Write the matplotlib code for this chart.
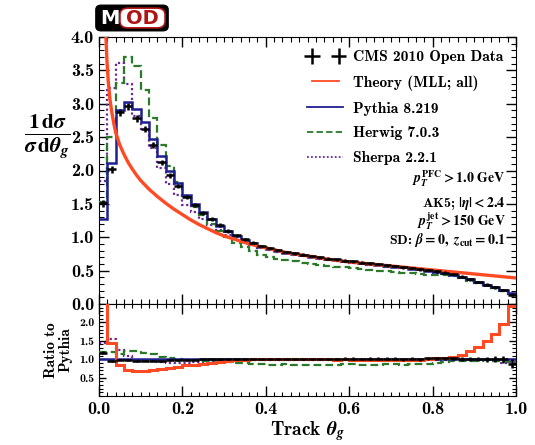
import matplotlib
matplotlib.use("Agg")
import numpy as np
import matplotlib.pyplot as plt
from matplotlib.patches import FancyBboxPatch
from matplotlib.ticker import MultipleLocator, FixedLocator, FormatStrFormatter

# 50 bins of width 0.02 in track theta_g
bin_edges = np.linspace(0.0, 1.0, 51)
bin_centers = 0.5 * (bin_edges[:-1] + bin_edges[1:])

cms_data = [1.51, 2.02, 2.87, 2.96, 2.78, 2.62, 2.38, 2.12, 1.93, 1.77,
            1.61, 1.48, 1.37, 1.27, 1.18, 1.10, 1.03, 0.97, 0.92, 0.87,
            0.84, 0.81, 0.78, 0.76, 0.74, 0.72, 0.70, 0.68, 0.67, 0.65,
            0.64, 0.62, 0.61, 0.60, 0.58, 0.57, 0.55, 0.54, 0.52, 0.51,
            0.49, 0.47, 0.45, 0.41, 0.37, 0.33, 0.29, 0.25, 0.21, 0.14]
cms_err = [0.05, 0.05, 0.05, 0.05, 0.05, 0.04, 0.04, 0.04, 0.04, 0.03,
           0.03, 0.03, 0.03, 0.03, 0.03, 0.03, 0.02, 0.02, 0.02, 0.02,
           0.02, 0.02, 0.02, 0.02, 0.02, 0.02, 0.02, 0.02, 0.02, 0.02,
           0.02, 0.02, 0.02, 0.02, 0.02, 0.02, 0.02, 0.02, 0.02, 0.02,
           0.02, 0.02, 0.02, 0.02, 0.02, 0.02, 0.02, 0.02, 0.02, 0.02]

pythia = [1.28, 2.11, 2.90, 3.02, 2.92, 2.72, 2.47, 2.22, 2.00, 1.82,
          1.64, 1.50, 1.38, 1.27, 1.17, 1.09, 1.02, 0.96, 0.91, 0.86,
          0.83, 0.80, 0.77, 0.75, 0.73, 0.71, 0.69, 0.67, 0.66, 0.64,
          0.63, 0.62, 0.60, 0.59, 0.57, 0.56, 0.55, 0.53, 0.52, 0.50,
          0.48, 0.46, 0.44, 0.41, 0.37, 0.33, 0.29, 0.25, 0.21, 0.16]

herwig = [1.53, 2.50, 3.31, 3.70, 3.57, 3.21, 2.79, 2.38, 2.06, 1.83,
          1.62, 1.46, 1.33, 1.20, 1.10, 1.00, 0.92, 0.85, 0.79, 0.74,
          0.71, 0.68, 0.66, 0.64, 0.62, 0.60, 0.59, 0.57, 0.56, 0.55,
          0.54, 0.53, 0.51, 0.50, 0.49, 0.48, 0.47, 0.46, 0.45, 0.44,
          0.43, 0.43, 0.42, 0.39, 0.35, 0.31, 0.28, 0.24, 0.20, 0.15]

sherpa = [1.85, 3.24, 3.61, 3.30, 2.82, 2.62, 2.33, 2.04, 1.80, 1.63,
          1.49, 1.38, 1.28, 1.19, 1.11, 1.04, 0.98, 0.93, 0.88, 0.84,
          0.81, 0.78, 0.76, 0.74, 0.72, 0.70, 0.68, 0.66, 0.65, 0.63,
          0.62, 0.61, 0.59, 0.58, 0.56, 0.55, 0.54, 0.52, 0.51, 0.49,
          0.47, 0.45, 0.43, 0.40, 0.36, 0.32, 0.28, 0.24, 0.19, 0.15]

# theory curve (MLL) as drawn in the top panel
theory_x = [0.0155, 0.017, 0.019, 0.022, 0.026, 0.03, 0.035, 0.04, 0.05, 0.06,
            0.07, 0.08, 0.09, 0.10, 0.12, 0.14, 0.16, 0.18, 0.20, 0.22,
            0.24, 0.26, 0.28, 0.30, 0.33, 0.36, 0.40, 0.45, 0.50, 0.55,
            0.60, 0.65, 0.70, 0.75, 0.80, 0.85, 0.90, 0.95, 1.00]
theory_y = [4.30, 3.95, 3.65, 3.35, 3.08, 2.90, 2.72, 2.57, 2.38, 2.24,
            2.12, 2.02, 1.93, 1.85, 1.72, 1.61, 1.51, 1.42, 1.34, 1.26,
            1.19, 1.13, 1.07, 1.02, 0.96, 0.90, 0.84, 0.77, 0.72, 0.67,
            0.63, 0.60, 0.57, 0.54, 0.51, 0.48, 0.45, 0.42, 0.39]
# theory averaged per bin (used in the ratio panel)
theory_binned = [8.00, 3.06, 2.45, 2.10, 1.97, 1.87, 1.74, 1.62, 1.52, 1.44,
                 1.36, 1.28, 1.21, 1.15, 1.09, 1.04, 0.99, 0.95, 0.91, 0.87,
                 0.83, 0.80, 0.77, 0.75, 0.73, 0.71, 0.69, 0.67, 0.65, 0.635,
                 0.62, 0.605, 0.59, 0.58, 0.565, 0.55, 0.54, 0.525, 0.51, 0.50,
                 0.49, 0.48, 0.47, 0.46, 0.45, 0.44, 0.43, 0.42, 0.41, 0.39]

labels = ["CMS 2010 Open Data", "Theory (MLL; all)", "Pythia 8.219",
          "Herwig 7.0.3", "Sherpa 2.2.1"]
cut_texts = [r"$p_T^{\rm PFC} > 1.0\ \mathrm{GeV}$",
             r"AK5; $|\eta| < 2.4$",
             r"$p_T^{\rm jet} > 150\ \mathrm{GeV}$",
             r"SD: $\beta = 0,\ z_{\rm cut} = 0.1$"]

C_THEORY = "#ff4a24"
C_PYTHIA = "#1f1f8f"
C_HERWIG = "#2a7a2a"
C_SHERPA = "#6a2b9a"

plt.rcParams["font.family"] = "cmb10"
plt.rcParams["mathtext.fontset"] = "custom"
plt.rcParams["mathtext.it"] = "STIXGeneral:italic:bold"
plt.rcParams["mathtext.rm"] = "STIXGeneral:bold"
plt.rcParams["mathtext.bf"] = "STIXGeneral:bold"
plt.rcParams["axes.unicode_minus"] = False

W, H = 535, 445
fig = plt.figure(figsize=(W / 100, H / 100), dpi=100)


def axes_px(left, top, right, bottom):
    return fig.add_axes([left / W, 1 - bottom / H, (right - left) / W, (bottom - top) / H])


ax = axes_px(99, 37, 516, 304)
rax = axes_px(99, 304, 516, 396)

pythia_a = np.array(pythia)
data_a = np.array(cms_data)

# top panel
h_sherpa = ax.stairs(sherpa, bin_edges, color=C_SHERPA, ls=(0, (1, 1.2)), lw=1.6, baseline=None, zorder=2)
h_herwig = ax.stairs(herwig, bin_edges, color=C_HERWIG, ls=(0, (3.5, 1.8)), lw=1.6, baseline=None, zorder=3)
h_pythia = ax.stairs(pythia, bin_edges, color=C_PYTHIA, lw=1.8, baseline=None, zorder=4)
h_theory, = ax.plot(theory_x, theory_y, color=C_THEORY, lw=2.4, zorder=5)
h_data = ax.errorbar(bin_centers, cms_data, xerr=0.01, yerr=cms_err, fmt="none",
                     ecolor="black", elinewidth=1.8, capsize=0, zorder=6)

ax.set_xlim(0, 1)
ax.set_ylim(0, 4)
ax.xaxis.set_major_locator(MultipleLocator(0.2))
ax.xaxis.set_minor_locator(MultipleLocator(0.02))
ax.yaxis.set_major_locator(MultipleLocator(0.5))
ax.yaxis.set_minor_locator(MultipleLocator(0.1))
ax.yaxis.set_major_formatter(FormatStrFormatter("%.1f"))
ax.tick_params(which="both", direction="in", top=True, right=True, labelbottom=False)
ax.tick_params(which="major", length=7, width=1, labelsize=13)
ax.tick_params(which="minor", length=3.5, width=0.8)

leg = ax.legend([h_data, h_theory, h_pythia, h_herwig, h_sherpa], labels,
                loc="upper right", frameon=False, numpoints=2, fontsize=11.2,
                handlelength=2.3, handletextpad=0.6, labelspacing=0.7,
                borderaxespad=0.45)
for line in leg.get_lines():
    line.set_linewidth(1.3)

for txt, yy in zip(cut_texts, [0.468, 0.378, 0.311, 0.24]):
    ax.text(0.975, yy, txt, transform=ax.transAxes, ha="right", va="center", fontsize=10)

fig.text(47 / W, 1 - 137 / H, r"$\frac{1\,\mathrm{d}\sigma}{\sigma\,\mathrm{d}\theta_g}$",
         ha="center", va="center", fontsize=22)

# ratio panel
rax.stairs(np.array(theory_binned) / pythia_a, bin_edges, color=C_THEORY, lw=2.2, baseline=None, zorder=5)
rax.stairs(np.array(sherpa) / pythia_a, bin_edges, color=C_SHERPA, ls=(0, (1, 1.2)), lw=1.6, baseline=None, zorder=2)
rax.stairs(np.array(herwig) / pythia_a, bin_edges, color=C_HERWIG, ls=(0, (3.5, 1.8)), lw=1.6, baseline=None, zorder=3)
rax.stairs(pythia_a / pythia_a, bin_edges, color=C_PYTHIA, lw=1.8, baseline=None, zorder=4)
rax.errorbar(bin_centers, data_a / pythia_a, xerr=0.01, yerr=np.array(cms_err) / pythia_a,
             fmt="none", ecolor="black", elinewidth=1.8, capsize=0, zorder=6)

rax.set_xlim(0, 1)
rax.set_ylim(0, 2.5)
rax.xaxis.set_major_locator(MultipleLocator(0.2))
rax.xaxis.set_minor_locator(MultipleLocator(0.02))
rax.yaxis.set_major_locator(FixedLocator([0.5, 1.0, 1.5, 2.0]))
rax.yaxis.set_minor_locator(MultipleLocator(0.1))
rax.yaxis.set_major_formatter(FormatStrFormatter("%.1f"))
rax.xaxis.set_major_formatter(FormatStrFormatter("%.1f"))
rax.tick_params(which="both", direction="in", top=True, right=True)
rax.tick_params(axis="x", which="major", length=7, width=1, labelsize=13, pad=4)
rax.tick_params(axis="y", which="major", length=5, width=1, labelsize=8.5)
rax.tick_params(which="minor", length=3, width=0.8)
rax.set_xlabel(r"Track $\theta_g$", fontsize=14, labelpad=2)
rax.set_ylabel("Ratio to\nPythia", fontsize=11, labelpad=5, linespacing=0.95)

# MOD logo
fig.patches.append(FancyBboxPatch((98 / W, 1 - 29 / H), 68 / W, 22 / H,
                                  boxstyle="round,pad=0.004,rounding_size=0.01",
                                  transform=fig.transFigure, facecolor="black",
                                  edgecolor="black", zorder=10))
fig.patches.append(FancyBboxPatch((121 / W, 1 - 27 / H), 43 / W, 18 / H,
                                  boxstyle="round,pad=0.002,rounding_size=0.015",
                                  transform=fig.transFigure, facecolor="white",
                                  edgecolor="#b01515", lw=1.2, zorder=11))
fig.text(110 / W, 1 - 18 / H, "M", color="white", fontsize=14, ha="center", va="center",
         family="DejaVu Sans", weight="bold", zorder=12)
fig.text(142 / W, 1 - 18 / H, "OD", color="#b01515", fontsize=14, ha="center", va="center",
         family="DejaVu Sans", weight="bold", zorder=12)

fig.savefig("out.png", dpi=100)
